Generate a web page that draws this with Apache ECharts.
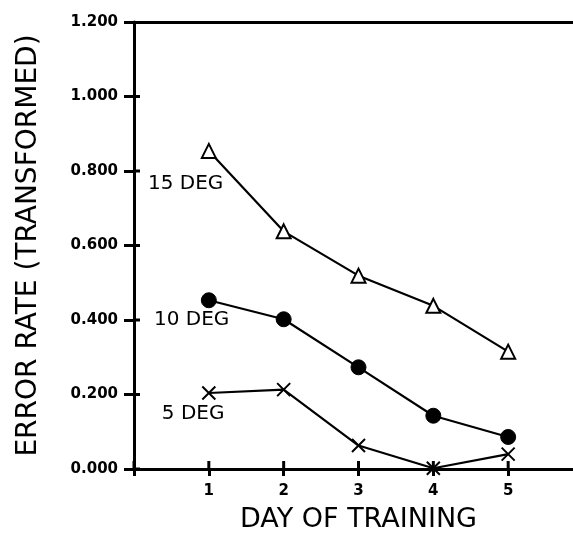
<!DOCTYPE html>
<html><head><meta charset="utf-8">
<script src="https://cdn.jsdelivr.net/npm/echarts@6/dist/echarts.min.js"></script>
<style>html,body{margin:0;padding:0;background:#fff;overflow:hidden}#c{width:583px;height:538px}</style>
</head><body><div id="c"></div>
<script>
var days = [1, 2, 3, 4, 5];
var deg15 = [0.854, 0.638, 0.519, 0.438, 0.315];
var deg10 = [0.453, 0.402, 0.273, 0.143, 0.086];
var deg5  = [0.204, 0.213, 0.063, 0.002, 0.040];
var seriesNames = ['15 DEG', '10 DEG', '5 DEG'];
var labelAnchors = [[0.69, 0.765], [0.77, 0.40], [0.79, 0.148]];
var yTicks = ['0.000','0.200','0.400','0.600','0.800','1.000','1.200'];
var xTickValues = [0, 1, 2, 3, 4, 5];
var yTickValues = [0, 0.2, 0.4, 0.6, 0.8, 1.0];

var chart = echarts.init(document.getElementById('c'));
var FONT = '"DejaVu Sans", sans-serif';
function pts(v){ return days.map(function(d,i){ return [d, v[i]]; }); }
var common = {type:'line', lineStyle:{color:'#000', width:2.2}, showAllSymbol:true, animation:false, z:3};
var ax = {lineStyle:{color:'#000', width:3}};
var tkl = {color:'#000', width:3};
chart.setOption({
  animation:false,
  grid:{left:134, right:0, top:22, bottom:61},
  xAxis:[{
    type:'value', min:0, max:6, interval:1,
    axisLine:ax, splitLine:{show:false},
    axisTick:{inside:false, length:7, lineStyle:tkl},
    axisLabel:{showMaxLabel:false, margin:15, color:'#000', fontFamily:FONT, fontWeight:'bold', fontSize:15,
      formatter:function(v){ return v===0?'':String(v); }},
    name:'DAY OF TRAINING', nameLocation:'middle', nameGap:37,
    nameTextStyle:{color:'#000', fontFamily:FONT, fontSize:27}
  },{
    type:'value', min:0, max:6, position:'top',
    axisLine:ax, splitLine:{show:false}, axisLabel:{show:false}, axisTick:{show:false}
  }],
  yAxis:[{
    type:'value', min:0, max:1.2, interval:0.2,
    axisLine:ax, splitLine:{show:false},
    axisTick:{inside:false, length:10, lineStyle:tkl},
    axisLabel:{margin:16, color:'#000', fontFamily:FONT, fontWeight:'bold', fontSize:15,
      formatter:function(v){ return yTicks[Math.round(v/0.2)]; }},
    name:'ERROR RATE (TRANSFORMED)', nameLocation:'middle', nameGap:91,
    nameTextStyle:{color:'#000', fontFamily:FONT, fontSize:28}
  }],
  series:[
    Object.assign({name:seriesNames[0], data:pts(deg15), symbol:'triangle', symbolSize:14,
      itemStyle:{color:'#fff', borderColor:'#000', borderWidth:2}}, common),
    Object.assign({name:seriesNames[1], data:pts(deg10), symbol:'circle', symbolSize:15,
      itemStyle:{color:'#000', borderColor:'#000', borderWidth:1}}, common),
    Object.assign({name:seriesNames[2], data:pts(deg5), symbol:'path://M0,0L10,10M10,0L0,10', symbolSize:13,
      itemStyle:{color:'none', borderColor:'#000', borderWidth:2}}, common)
  ]
});
var conv = function(a){ return chart.convertToPixel({xAxisIndex:0, yAxisIndex:0}, a); };
var g = labelAnchors.map(function(a, i){
  var p = conv(a);
  return {type:'text', x:p[0], y:p[1], z:10, style:{text:seriesNames[i], fill:'#000', font:'20px ' + FONT, align:'center', verticalAlign:'middle'}};
});
yTickValues.forEach(function(v){
  var p = conv([0, v]);
  g.push({type:'line', z:10, shape:{x1:p[0], y1:p[1], x2:p[0]+6, y2:p[1]}, style:{stroke:'#000', lineWidth:3}});
});
xTickValues.forEach(function(v){
  var p = conv([v, 0]);
  g.push({type:'line', z:10, shape:{x1:p[0], y1:p[1], x2:p[0], y2:p[1]-8}, style:{stroke:'#000', lineWidth:3}});
});
chart.setOption({graphic:g});
</script></body></html>
